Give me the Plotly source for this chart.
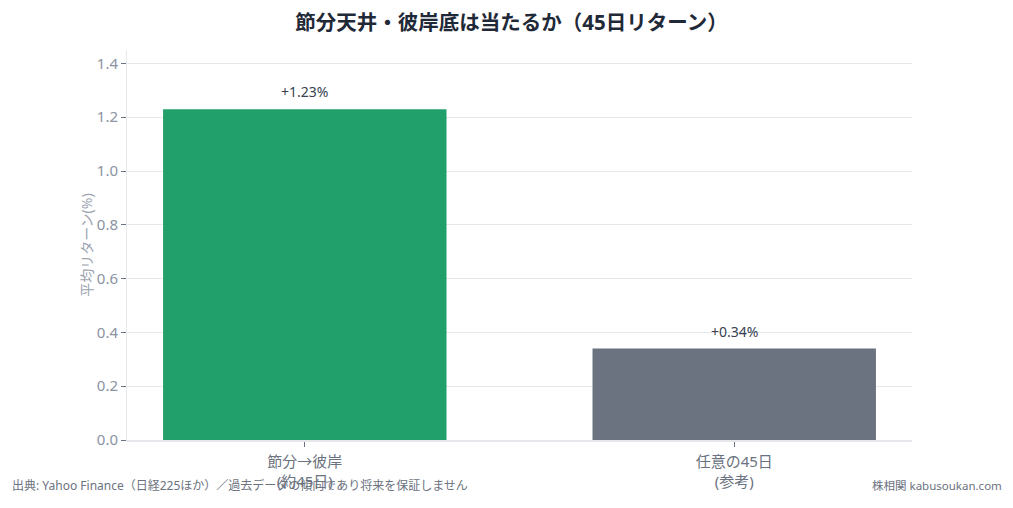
import plotly.graph_objects as go

categories = ["節分→彼岸<br>(約45日)", "任意の45日<br>(参考)"]
values = [1.23, 0.34]
labels = ["+1.23%", "+0.34%"]
colors = ["#22a06b", "#6b7280"]

FONT = "Noto Sans, Noto Sans CJK JP"

fig = go.Figure()
fig.add_trace(go.Bar(
    x=[0, 1],
    y=values,
    width=0.66,
    marker=dict(color=colors, line=dict(width=0)),
    hoverinfo="skip",
))

annotations = [
    dict(x=i, y=v, xref="x", yref="y", text=t, showarrow=False,
         yanchor="bottom", yshift=6,
         font=dict(size=14, color="#374151", family=FONT))
    for i, (v, t) in enumerate(zip(values, labels))
]
annotations += [
    dict(text="出典: Yahoo Finance（日経225ほか）／過去データの傾向であり将来を保証しません",
         xref="paper", yref="paper", x=-117/785, y=-45/390,
         xanchor="left", yanchor="middle", showarrow=False,
         font=dict(size=12, color="#6b7280", family=FONT)),
    dict(text="株相関 kabusoukan.com",
         xref="paper", yref="paper", x=1 + 92/785, y=-45/390,
         xanchor="right", yanchor="middle", showarrow=False,
         font=dict(size=11.5, color="#6b7280", family=FONT)),
]

fig.update_layout(
    width=1013, height=508,
    margin=dict(l=127, r=101, t=50, b=68),
    paper_bgcolor="white", plot_bgcolor="white",
    font=dict(family=FONT, color="#6b7280"),
    title=dict(text="<b>節分天井・彼岸底は当たるか（45日リターン）</b>",
               x=0.505, xanchor="center", y=0.956, yanchor="middle",
               font=dict(size=20.5, color="#1f2937", family=FONT)),
    showlegend=False,
    xaxis=dict(
        tickmode="array", tickvals=[0, 1], ticktext=categories,
        range=[-0.414, 1.414],
        ticks="outside", ticklen=5, tickcolor="#6b7280",
        tickfont=dict(size=15, color="#6b7280", family=FONT),
        ticklabelstandoff=2,
        showline=True, linecolor="#e5e7eb", linewidth=2,
        showgrid=False, zeroline=False,
    ),
    yaxis=dict(
        range=[0, 1.45], dtick=0.2, tickformat=".1f",
        ticks="outside", ticklen=5, tickcolor="#6b7280",
        tickfont=dict(size=15, color="#8b93a1", family=FONT),
        showline=True, linecolor="#e5e7eb", linewidth=1,
        showgrid=True, gridcolor="#e5e7eb", gridwidth=1,
        zeroline=False,
        title=dict(text="平均リターン(%)", standoff=0,
                   font=dict(size=14, color="#9ca3af", family=FONT)),
    ),
    annotations=annotations,
)

fig.write_html("out.html")
